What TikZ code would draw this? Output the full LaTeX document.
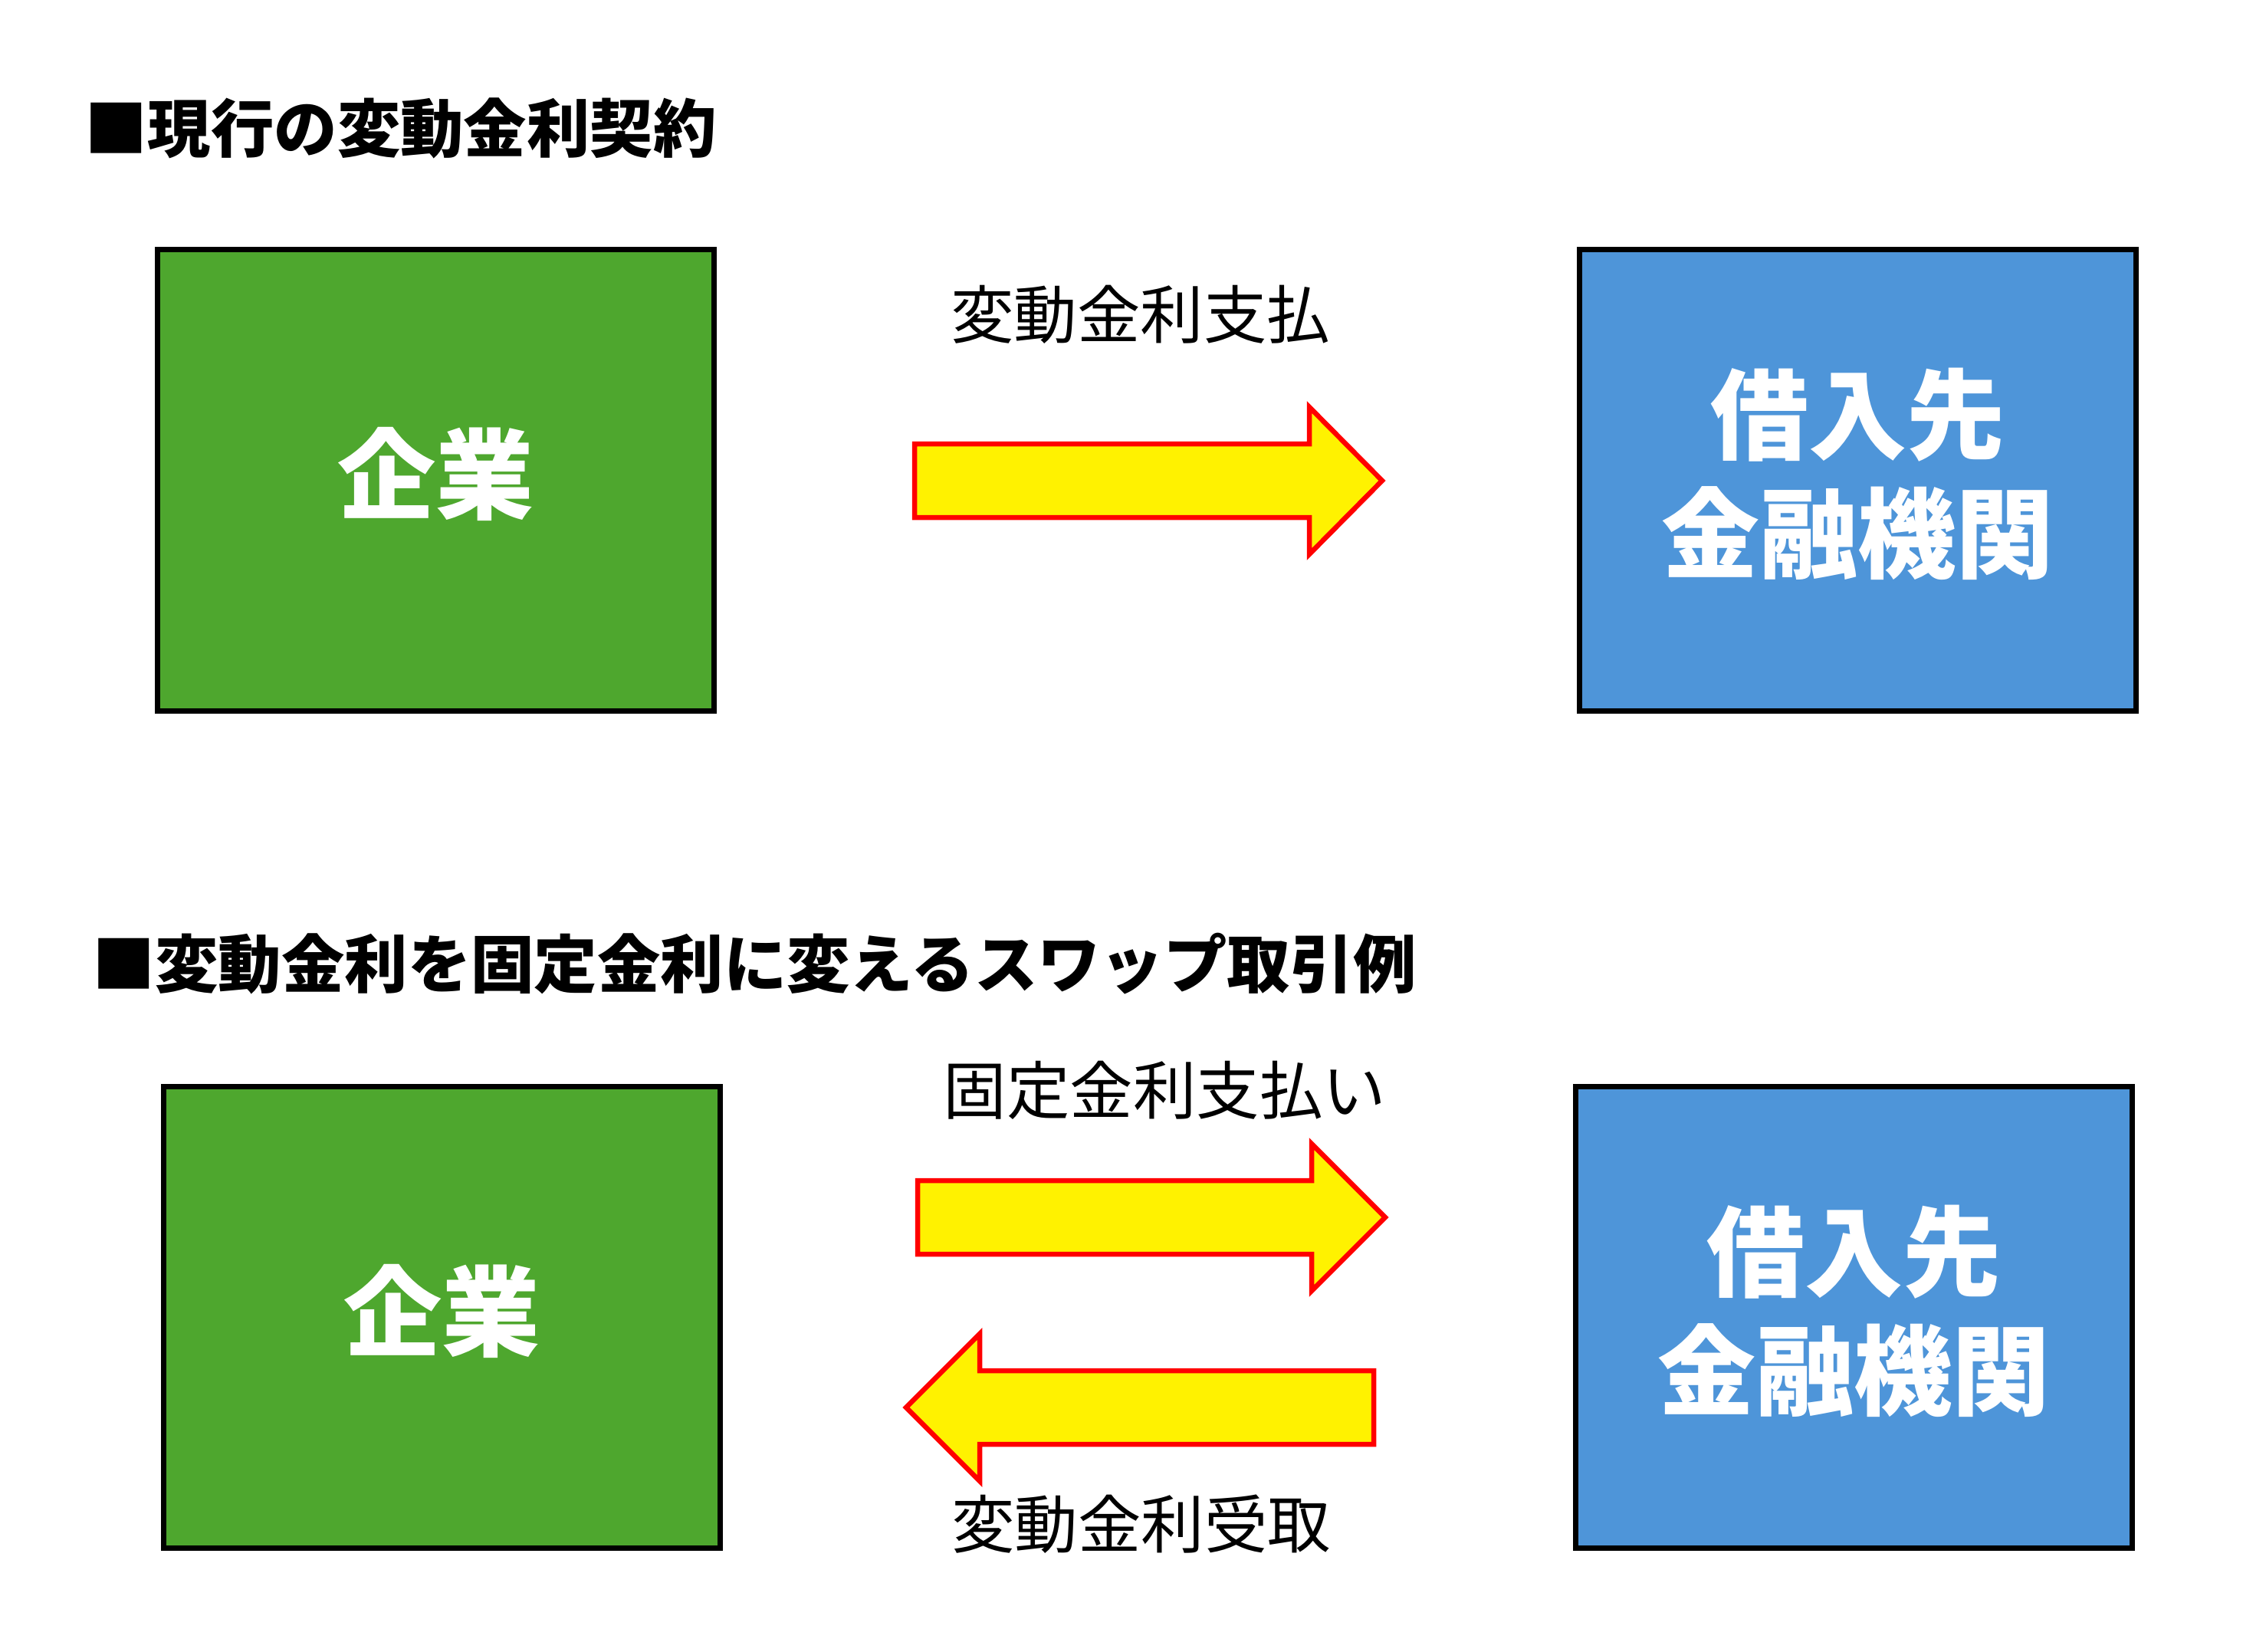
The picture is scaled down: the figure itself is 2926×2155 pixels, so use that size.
\documentclass[tikz,border=0pt]{standalone}
\usepackage{fontspec}
\newfontfamily\jp{Noto Sans CJK JP}
\definecolor{boxgreen}{HTML}{4EA72E}
\definecolor{boxblue}{HTML}{4E95D9}
\begin{document}
\begin{tikzpicture}[x=0.5pt,y=-0.5pt,
  panel/.style={draw=black, line width=3.5pt, minimum width=363pt, minimum height=301pt, inner sep=0pt},
  greenbox/.style={panel, fill=boxgreen},
  bluebox/.style={panel, fill=boxblue},
  boxtext/.style={text=white, font=\jp\bfseries\fontsize{64pt}{77.5pt}\selectfont, align=center, inner sep=0pt},
  titletext/.style={font=\jp\bfseries\fontsize{41.2pt}{49pt}\selectfont, inner sep=0pt},
  flowlabel/.style={font=\jp\fontsize{41.25pt}{50pt}\selectfont, inner sep=0pt},
  blockarrow/.style={draw=red, fill=yellow, line width=3.25pt, line join=miter, miter limit=10}]
\useasboundingbox (0,0) rectangle (2926,2155);
\fill[white] (0,0) rectangle (2926,2155);

% ---- section 1
\node[titletext] (title1) at (522.5,167) {■現行の変動金利契約};
\node[greenbox] (g1) at (568.5,626.5) {};
\node[bluebox] (b1) at (2423.5,626.5) {};
\node[boxtext] (g1t) at ([yshift=4pt]g1.center) {企業};
\node[boxtext] (b1t) at ([yshift=4pt]b1.center) {借入先\\金融機関};
\node[flowlabel] (l1) at (1487.5,410) {変動金利支払};
\draw[blockarrow] (1193,579) -- (1708,579) -- (1708,531) -- (1803,627) -- (1708,723) -- (1708,675) -- (1193,675) -- cycle;

% ---- section 2
\node[titletext] (title2) at (984,1257) {■変動金利を固定金利に変えるスワップ取引例};
\node[greenbox] (g2) at (576.5,1718.5) {};
\node[bluebox] (b2) at (2418.5,1718.5) {};
\node[boxtext] (g2t) at ([yshift=4pt]g2.center) {企業};
\node[boxtext] (b2t) at ([yshift=4pt]b2.center) {借入先\\金融機関};
\node[flowlabel] (l2) at (1519.5,1422) {固定金利支払い};
\node[flowlabel] (l3) at (1488.5,1988) {変動金利受取};
\draw[blockarrow] (1197,1540) -- (1711,1540) -- (1711,1492) -- (1807,1588) -- (1711,1684) -- (1711,1636) -- (1197,1636) -- cycle;
\draw[blockarrow] (1792,1788) -- (1278,1788) -- (1278,1740) -- (1182,1836) -- (1278,1932) -- (1278,1884) -- (1792,1884) -- cycle;
\end{tikzpicture}
\end{document}
